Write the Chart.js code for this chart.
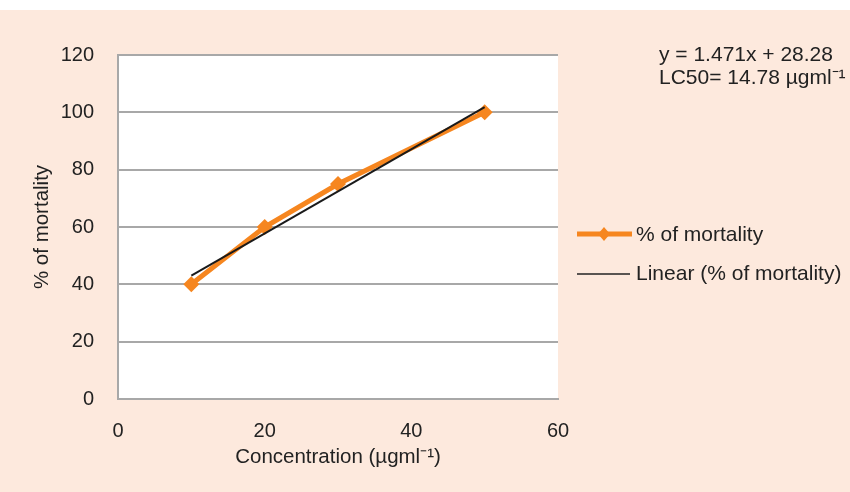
<!DOCTYPE html>
<html>
<head>
<meta charset="utf-8">
<script src="https://cdn.jsdelivr.net/npm/chart.js@4.4.1/dist/chart.umd.min.js"></script>
<style>
  html, body { margin: 0; padding: 0; background: #fff; }
  #wrap { width: 850px; height: 492px; }
</style>
</head>
<body>
<div id="wrap"><canvas id="lcChart" width="850" height="492"></canvas></div>
<script>
// values
const concentration = [10, 20, 30, 50];
const mortality = [40, 60, 75, 100];
const trendX = [10, 50];
const trendY = [43, 101.8];
const xTicks = [0, 20, 40, 60];
const yTicks = [0, 20, 40, 60, 80, 100, 120];
const equationText = 'y = 1.471x + 28.28';
const lc50Text = 'LC50= 14.78 \u00b5gml\u207b\u00b9';

const ORANGE = '#f6861f';
const GRID = '#a8a8a8';
const TEXT = '#222';
const FONT = "'Liberation Sans', Arial, sans-serif";

// peach page, white plot area, legend + equation text
const decor = {
    id: 'decor',
    beforeDraw(chart) {
        const ctx = chart.ctx;
        const a = chart.chartArea;
        ctx.save();
        ctx.fillStyle = '#ffffff';
        ctx.fillRect(0, 0, chart.width, chart.height);
        ctx.fillStyle = '#fde9dd';
        ctx.fillRect(0, 10, chart.width, chart.height - 10);
        ctx.fillStyle = '#ffffff';
        ctx.fillRect(a.left, a.top, a.right - a.left, a.bottom - a.top);
        ctx.restore();
    },
    afterDraw(chart) {
        const ctx = chart.ctx;
        ctx.save();
        ctx.font = '21px ' + FONT;
        ctx.fillStyle = TEXT;
        ctx.textBaseline = 'middle';
        ctx.textAlign = 'left';
        // equation box
        ctx.fillText(equationText, 659, 55);
        ctx.fillText(lc50Text, 659, 78);

        // legend: series line with diamond
        ctx.strokeStyle = ORANGE;
        ctx.lineWidth = 5;
        ctx.beginPath();
        ctx.moveTo(577, 234);
        ctx.lineTo(632, 234);
        ctx.stroke();
        ctx.fillStyle = ORANGE;
        ctx.beginPath();
        ctx.moveTo(604, 227);
        ctx.lineTo(610, 234);
        ctx.lineTo(604, 241);
        ctx.lineTo(598, 234);
        ctx.closePath();
        ctx.fill();
        ctx.fillStyle = TEXT;
        ctx.fillText(chart.data.datasets[0].label, 636, 235);

        // legend: trendline
        ctx.strokeStyle = '#222';
        ctx.lineWidth = 1.5;
        ctx.beginPath();
        ctx.moveTo(577, 274);
        ctx.lineTo(630, 274);
        ctx.stroke();
        ctx.fillText(chart.data.datasets[1].label, 636, 274);
        ctx.restore();
    }
};

const ctx = document.getElementById('lcChart').getContext('2d');
window.lcChart = new Chart(ctx, {
    type: 'scatter',
    data: {
        datasets: [{
            label: '% of mortality',
            data: concentration.map((x, i) => ({ x: x, y: mortality[i] })),
            showLine: true,
            borderColor: ORANGE,
            backgroundColor: ORANGE,
            borderWidth: 5,
            pointStyle: 'rectRot',
            pointRadius: 8,
            pointBorderWidth: 0,
            order: 2
        }, {
            label: 'Linear (% of mortality)',
            data: trendX.map((x, i) => ({ x: x, y: trendY[i] })),
            showLine: true,
            borderColor: '#1a1a1a',
            borderWidth: 2,
            pointRadius: 0,
            order: 1
        }]
    },
    options: {
        responsive: false,
        animation: false,
        layout: { padding: { left: 0, right: 292, top: 55, bottom: 0 } },
        plugins: {
            legend: { display: false },
            tooltip: { enabled: false }
        },
        scales: {
            x: {
                type: 'linear',
                min: 0, max: 60,
                afterFit: s => { s.height = 93; },
                afterBuildTicks: s => { s.ticks = xTicks.map(v => ({ value: v })); },
                grid: { display: false },
                border: { display: true, color: GRID, width: 2 },
                ticks: { color: TEXT, font: { family: FONT, size: 20 }, padding: 12 },
                title: {
                    display: true,
                    text: 'Concentration (\u00b5gml\u207b\u00b9)',
                    color: TEXT,
                    font: { family: FONT, size: 20.5 },
                    padding: { top: 0, bottom: 22 }
                }
            },
            y: {
                min: 0, max: 120,
                afterFit: s => { s.width = 118; },
                afterBuildTicks: s => { s.ticks = yTicks.map(v => ({ value: v })); },
                grid: { color: GRID, lineWidth: 2, drawTicks: false },
                border: { display: true, color: GRID, width: 2 },
                ticks: { color: TEXT, font: { family: FONT, size: 20 }, padding: 24 },
                title: {
                    display: true,
                    text: '% of mortality',
                    color: TEXT,
                    font: { family: FONT, size: 20.5 },
                    padding: { top: 30, bottom: 0 }
                }
            }
        }
    },
    plugins: [decor]
});
</script>
</body>
</html>
